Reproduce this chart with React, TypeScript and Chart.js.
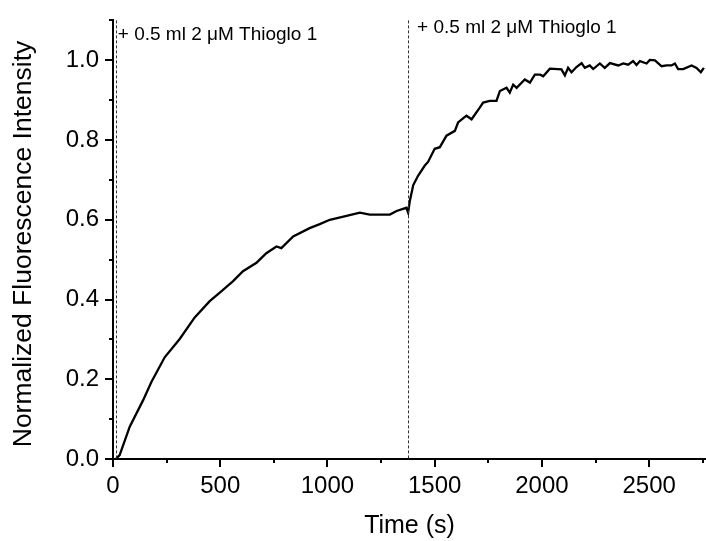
import React, { useEffect, useRef } from 'react';
import { Chart, registerables } from 'chart.js';

Chart.register(...registerables);

// Data
const times = [
  13, 31, 78, 140, 179, 241, 311, 381, 451, 498, 560, 606, 669, 684, 715, 762, 785, 840,
  917, 964, 1011, 1089, 1151, 1197, 1291, 1322, 1368, 1376, 1384, 1400, 1423, 1454, 1469,
  1500, 1524, 1555, 1594, 1609, 1648, 1672, 1710, 1726, 1757, 1788, 1804, 1835, 1850, 1866,
  1882, 1920, 1944, 1967, 1992, 2006, 2037, 2091, 2107, 2122, 2138, 2161, 2185, 2200, 2223,
  2239, 2270, 2293, 2317, 2356, 2379, 2402, 2425, 2441, 2457, 2488, 2503, 2527, 2558, 2581,
  2604, 2620, 2635, 2659, 2698, 2721, 2741, 2755,
];
const intensity = [
  0, 0.01, 0.081, 0.147, 0.193, 0.255, 0.301, 0.355, 0.396, 0.417, 0.446, 0.471, 0.492, 0.5,
  0.516, 0.533, 0.529, 0.558, 0.579, 0.589, 0.6, 0.61, 0.618, 0.613, 0.613, 0.622, 0.63,
  0.618, 0.647, 0.687, 0.711, 0.736, 0.745, 0.778, 0.782, 0.811, 0.823, 0.844, 0.861, 0.852,
  0.881, 0.894, 0.898, 0.898, 0.923, 0.931, 0.919, 0.939, 0.931, 0.952, 0.944, 0.964, 0.964,
  0.96, 0.979, 0.977, 0.962, 0.981, 0.97, 0.983, 0.993, 0.981, 0.987, 0.978, 0.992, 0.981,
  0.993, 0.987, 0.992, 0.989, 0.998, 0.988, 0.998, 0.992, 1.001, 1.0, 0.985, 0.987, 0.987,
  0.992, 0.978, 0.978, 0.987, 0.981, 0.97, 0.981,
];

const xMajorTicks = [0, 500, 1000, 1500, 2000, 2500];
const xMinorTicks = [250, 750, 1250, 1750, 2250, 2750];
const yMajorTicks = [0, 0.2, 0.4, 0.6, 0.8, 1.0];
const yMinorTicks = [0.1, 0.3, 0.5, 0.7, 0.9, 1.1];

const markerTimes = [13, 1376];
const markerLabels = ['+ 0.5 ml 2 \u03BCM Thioglo 1', '+ 0.5 ml 2 \u03BCM Thioglo 1'];

const xTitle = 'Time (s)';
const yTitle = 'Normalized Fluorescence Intensity';

const FONT = "'Liberation Sans', Arial, sans-serif";

// label placement (pixel offsets relative to marker line / top)
const labelStyle = [
  { dx: 2, y: 40 },
  { dx: 9, y: 33 },
];

const decorPlugin = {
  id: 'decor',
  afterDatasetsDraw(chart: any) {
    const { ctx, scales } = chart;
    const xs = scales.x;
    const ys = scales.y;
    const left = xs.left;
    const bottom = ys.bottom;
    ctx.save();
    // minor ticks
    ctx.strokeStyle = '#000';
    ctx.lineWidth = 2;
    ctx.setLineDash([]);
    ctx.beginPath();
    xMinorTicks.forEach((v) => {
      const px = Math.round(xs.getPixelForValue(v));
      ctx.moveTo(px, bottom);
      ctx.lineTo(px, bottom + 4);
    });
    yMinorTicks.forEach((v) => {
      const py = Math.round(ys.getPixelForValue(v));
      ctx.moveTo(left, py);
      ctx.lineTo(left - 4, py);
    });
    ctx.stroke();

    // dashed marker lines
    ctx.strokeStyle = '#333';
    ctx.lineWidth = 1;
    ctx.setLineDash([3, 2]);
    markerTimes.forEach((t) => {
      const px = Math.round(xs.getPixelForValue(t)) + 0.5;
      ctx.beginPath();
      ctx.moveTo(px, ys.getPixelForValue(1.1));
      ctx.lineTo(px, bottom);
      ctx.stroke();
    });
    ctx.setLineDash([]);

    // labels
    ctx.fillStyle = '#000';
    ctx.font = `19px ${FONT}`;
    ctx.textBaseline = 'alphabetic';
    ctx.textAlign = 'left';
    markerTimes.forEach((t, i) => {
      const px = xs.getPixelForValue(t);
      ctx.fillText(markerLabels[i], px + labelStyle[i].dx, labelStyle[i].y);
    });

    // y-axis title
    ctx.save();
    ctx.translate(24, 244);
    ctx.rotate(-Math.PI / 2);
    ctx.font = `26.5px ${FONT}`;
    ctx.textAlign = 'center';
    ctx.textBaseline = 'middle';
    ctx.fillText(yTitle, 0, 0);
    ctx.restore();

    ctx.restore();
  },
};

export default function App() {
  const canvasRef = useRef<HTMLCanvasElement | null>(null);

  useEffect(() => {
    if (!canvasRef.current) return;
    const chart = new Chart(canvasRef.current, {
      type: 'line',
      data: {
        datasets: [
          {
            data: times.map((t, i) => ({ x: t, y: intensity[i] })),
            borderColor: '#000',
            borderWidth: 2.3,
            pointRadius: 0,
            tension: 0,
            fill: false,
          },
        ],
      },
      options: {
        responsive: false,
        animation: false,
        devicePixelRatio: 1,
        layout: { padding: { top: 16, right: 0, left: 0, bottom: 0 } },
        plugins: {
          legend: { display: false },
          tooltip: { enabled: false },
        },
        scales: {
          x: {
            type: 'linear',
            min: 0,
            max: 2765,
            afterBuildTicks: (scale: any) => {
              scale.ticks = xMajorTicks.map((v) => ({ value: v }));
            },
            afterFit: (scale: any) => {
              scale.height = 82;
            },
            border: { display: true, color: '#000', width: 2 },
            grid: {
              display: true,
              drawOnChartArea: false,
              drawTicks: true,
              tickLength: 8,
              color: '#000',
              lineWidth: 2,
            },
            ticks: {
              color: '#000',
              padding: 5,
              font: { family: FONT, size: 24 },
              maxRotation: 0,
              autoSkip: false,
              callback: (v: any) => String(v),
            },
            title: {
              display: true,
              text: xTitle,
              color: '#000',
              font: { family: FONT, size: 25 },
              padding: { top: 0, bottom: 0 },
            },
          },
          y: {
            type: 'linear',
            min: 0,
            max: 1.1,
            afterBuildTicks: (scale: any) => {
              scale.ticks = yMajorTicks.map((v) => ({ value: v }));
            },
            afterFit: (scale: any) => {
              scale.width = 113;
            },
            border: { display: true, color: '#000', width: 2 },
            grid: {
              display: true,
              drawOnChartArea: false,
              drawTicks: true,
              tickLength: 8,
              color: '#000',
              lineWidth: 2,
            },
            ticks: {
              color: '#000',
              padding: 6,
              font: { family: FONT, size: 24 },
              autoSkip: false,
              callback: (v: any) => Number(v).toFixed(1),
            },
            title: { display: false },
          },
        },
      },
      plugins: [decorPlugin],
    });
    return () => chart.destroy();
  }, []);

  return (
    <div style={{ position: 'fixed', left: 0, top: 0, width: 706, height: 541, background: '#fff' }}>
      <canvas ref={canvasRef} width={706} height={541} style={{ display: 'block' }} />
    </div>
  );
}
